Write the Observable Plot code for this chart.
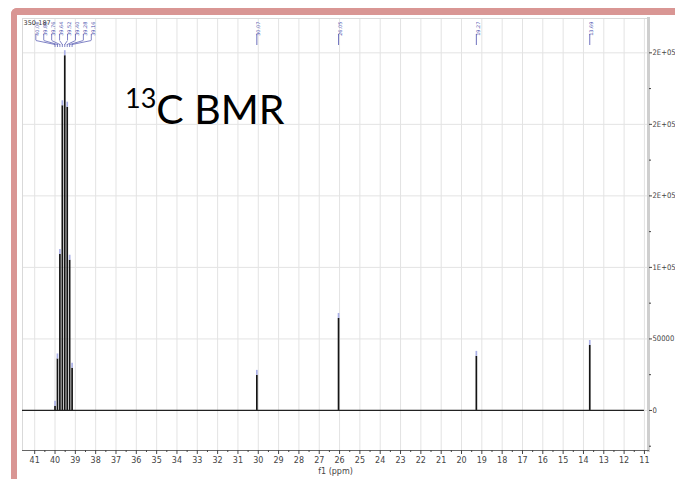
<!DOCTYPE html>
<html>
<head>
<meta charset="utf-8">
<script src="https://cdn.jsdelivr.net/npm/d3@7"></script>
<script src="https://cdn.jsdelivr.net/npm/@observablehq/plot@0.6"></script>
<style>
  html, body { margin: 0; padding: 0; background: #fff; }
  #wrap { position: relative; width: 675px; height: 479px; overflow: hidden; background: #fff; }
  #chart { position: absolute; left: 0; top: 0; }
  #frameTop { position: absolute; left: 11px; top: 8px; width: 700px; height: 7px; background: #d99694; border-top-left-radius: 6px; }
  #frameLeft { position: absolute; left: 11px; top: 8px; width: 6px; height: 500px; background: #d99694; border-top-left-radius: 6px; }
  #title { position: absolute; left: 125px; top: 88px; font-family: Lato, "Open Sans", sans-serif; font-size: 41px; line-height: 41px; color: #000; white-space: nowrap; }
  #title .sup { font-size: 27px; position: relative; top: -16px; }
</style>
</head>
<body>
<div id="wrap">
  <div id="chart"></div>
  <div id="frameTop"></div>
  <div id="frameLeft"></div>
  <div id="title"><span class="sup">13</span>C BMR</div>
</div>
<script>
// ---- data ----
// solvent (DMSO-d6) multiplet
const clusterPpm    = [40.00, 39.88, 39.76, 39.64, 39.52, 39.40, 39.28, 39.16];
const clusterHeight = [3000, 36000, 109000, 213000, 248000, 212000, 105000, 29500];
const clusterLabel  = ["40.00", "39.88", "39.76", "39.64", "39.52", "39.40", "39.28", "39.16"];
// single peaks
const singlePpm    = [30.07, 26.05, 19.27, 13.69];
const singleHeight = [24500, 64300, 37800, 45400];
const singleLabel  = ["30.07", "26.05", "19.27", "13.69"];
// axes
const xTicks  = d3.range(11, 42);
const xMinor  = d3.range(11.5, 41.5, 1);
const yTicks  = [0, 50000, 100000, 150000, 200000, 250000];
const yTickLabels = ["0", "50000", "1E+05", "2E+05", "2E+05", "2E+05"];
const yMinor  = [-25000, 25000, 75000, 125000, 175000, 225000];
const sampleLabel = "350-187";

// ---- layout ----
const W = 675, H = 479;
const margin = {top: 18, right: 27, bottom: 29, left: 22};
const xDomain = [41.6, 10.8];
const yDomain = [-28000, 274000];
const yPx = d3.scaleLinear(yDomain, [H - margin.bottom, margin.top]);
const v = px => yPx.invert(px);   // pixel row -> data value (for annotation rows)

const cluster = clusterPpm.map((ppm, i) => ({ppm, h: clusterHeight[i], label: clusterLabel[i]}));
const singles = singlePpm.map((ppm, i) => ({ppm, h: singleHeight[i], label: singleLabel[i]}));
const allPeaks = cluster.concat(singles);

// spread the crowded multiplet labels
const center = d3.mean(clusterPpm);
const step = 0.39;
cluster.forEach((d, i) => { d.lx = center + ((cluster.length - 1) / 2 - i) * step; });

const yLabelMap = new Map(yTicks.map((t, i) => [t, yTickLabels[i]]));
const labelColor = "#4b4fae";

const chart = Plot.plot({
  width: W, height: H,
  marginTop: margin.top, marginRight: margin.right, marginBottom: margin.bottom, marginLeft: margin.left,
  x: {domain: xDomain},
  y: {domain: yDomain},
  style: {fontFamily: "DejaVu Sans, sans-serif", background: "transparent", color: "#444"},
  marks: [
    Plot.ruleX(xTicks, {stroke: "#e3e3e3"}),
    Plot.ruleY(yTicks, {stroke: "#e3e3e3"}),
    Plot.frame({stroke: "#d9d9d9"}),
    Plot.frame({anchor: "right", stroke: "#cfcfcf", strokeWidth: 3}),
    Plot.frame({anchor: "bottom", stroke: "#666"}),
    Plot.axisX(xTicks, {tickSize: 4, tickPadding: 3, fontSize: 8, tickFormat: "d",
      label: "f1 (ppm)", labelAnchor: "center", labelArrow: "none", labelOffset: 23}),
    Plot.axisX(xMinor, {tickSize: 2, tickFormat: () => "", label: null}),
    Plot.axisY(yTicks, {anchor: "right", tickSize: 3, tickPadding: 1, fontSize: 7.6,
      fontFamily: "DejaVu Sans Condensed, DejaVu Sans, sans-serif",
      tickFormat: d => yLabelMap.get(d), label: null}),
    Plot.axisY(yMinor, {anchor: "right", tickSize: 2, tickFormat: () => "", label: null}),
    // baseline
    Plot.ruleY([0], {x1: xDomain[0], x2: xTicks[0], stroke: "#222", strokeWidth: 1.3}),
    // peaks
    Plot.ruleX(allPeaks, {x: "ppm", y1: 0, y2: "h", stroke: "#151515", strokeWidth: 1.7}),
    Plot.ruleX(allPeaks, {x: "ppm", y1: "h", y2: d => d.h + 3500, stroke: "#aab0e6", strokeWidth: 1.7}),
    // single peak labels
    Plot.text(singles, {x: "ppm", text: "label", frameAnchor: "top", dy: 3, rotate: -90, textAnchor: "end",
      fontSize: 5, fill: labelColor}),
    Plot.ruleX(singles, {x: "ppm", y1: v(34), y2: v(45), stroke: labelColor, strokeWidth: 0.8}),
    // multiplet labels with fan
    Plot.text(cluster, {x: "lx", text: "label", frameAnchor: "top", dy: 3, rotate: -90, textAnchor: "end",
      fontSize: 5, fill: labelColor}),
    Plot.ruleX(cluster, {x: "lx", y1: v(34), y2: v(40), stroke: labelColor, strokeWidth: 0.7}),
    Plot.link(cluster, {x1: "lx", y1: v(40), x2: "ppm", y2: v(44), stroke: labelColor, strokeWidth: 0.7}),
    Plot.ruleX(cluster, {x: "ppm", y1: v(44), y2: v(47), stroke: labelColor, strokeWidth: 0.7}),
    // sample id
    Plot.text([sampleLabel], {frameAnchor: "top-left", dx: 1, dy: 2, lineAnchor: "top", textAnchor: "start",
      fontSize: 6.5, fill: "#333"})
  ]
});
document.getElementById("chart").appendChild(chart);
</script>
</body>
</html>
